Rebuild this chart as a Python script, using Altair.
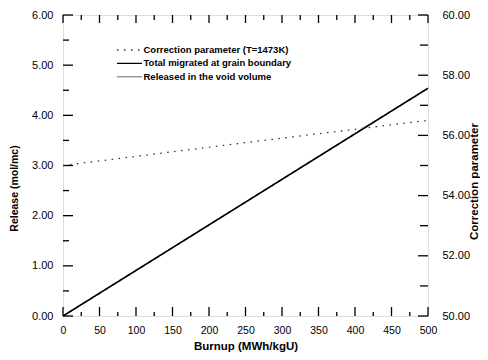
import altair as alt
import pandas as pd

# ---- data ----
burnup = [0, 250, 500]
total_migrated = [0.0, 2.27, 4.54]
released_void = [0.0, 2.27, 4.54]
correction = [55.0, 55.76, 56.5]

series_names = ["Correction parameter (T=1473K)",
                "Total migrated at grain boundary",
                "Released in the void volume"]

x_major = list(range(0, 501, 50))
x_minor = list(range(25, 500, 50))
left_major = [0, 1, 2, 3, 4, 5, 6]
left_minor = [0.5, 1.5, 2.5, 3.5, 4.5, 5.5]
right_major = [50, 52, 54, 56, 58, 60]
right_minor = [51, 53, 55, 57, 59]

W, H = 365, 301
FONT = "Liberation Sans"

df_total = pd.DataFrame({"burnup": burnup, "left": total_migrated, "series": series_names[1]})
df_rel = pd.DataFrame({"burnup": burnup, "left": released_void, "series": series_names[2]})
df_corr = pd.DataFrame({"burnup": burnup, "right": correction, "series": series_names[0]})
df_leg = pd.DataFrame({"series": series_names, "row": [0, 1, 2]})

color_enc = alt.Color("series:N", scale=alt.Scale(domain=series_names,
                      range=["#333333", "#000000", "#9a9a9a"]), legend=None)
dash_enc = alt.StrokeDash("series:N", scale=alt.Scale(domain=series_names,
                          range=[[1.5, 5.5], [1, 0], [1, 0]]), legend=None)

x_enc = alt.X("burnup:Q", scale=alt.Scale(domain=[0, 500], nice=False),
              axis=alt.Axis(values=x_major, format="d", tickSize=0, labelPadding=9,
                            domain=False, grid=False, title="Burnup (MWh/kgU)",
                            titlePadding=5, labelFontSize=10.5, titleFontSize=11.5,
                            labelFlush=False))

yl_enc = alt.Y("left:Q", scale=alt.Scale(domain=[0, 6], nice=False),
               axis=alt.Axis(values=left_major, format=".2f", tickSize=0, labelPadding=10,
                             domain=False, grid=False, title="Release (mol/mc)",
                             titleFontSize=10.5, labelFontSize=11, titleAngle=270,
                             titleX=-49, titleY=173, titleAlign="center",
                             titleBaseline="middle"))

yr_enc = alt.Y("right:Q", scale=alt.Scale(domain=[50, 60], nice=False),
               axis=alt.Axis(orient="right", values=right_major, format=".2f", tickSize=0,
                             labelPadding=14, domain=False, grid=False,
                             title="Correction parameter", titleFontSize=11.5,
                             labelFontSize=11, titleAngle=270, titleX=46, titleY=166,
                             titleAlign="center", titleBaseline="middle"))

# x ticks (inward, bottom and top)
bx_major = alt.Chart(pd.DataFrame({"burnup": x_major})).mark_rule(color="black", strokeWidth=1.3).encode(
    x=x_enc, y=alt.value(H), y2=alt.value(H - 9))
bx_minor = alt.Chart(pd.DataFrame({"burnup": x_minor})).mark_rule(color="black", strokeWidth=1.3).encode(
    x=x_enc, y=alt.value(H), y2=alt.value(H - 4))
tx_major = alt.Chart(pd.DataFrame({"burnup": x_major})).mark_rule(color="black", strokeWidth=1.3).encode(
    x=x_enc, y=alt.value(0), y2=alt.value(8))
tx_minor = alt.Chart(pd.DataFrame({"burnup": x_minor})).mark_rule(color="black", strokeWidth=1.3).encode(
    x=x_enc, y=alt.value(0), y2=alt.value(5))

rel_line = alt.Chart(df_rel).mark_line(strokeWidth=1.4).encode(
    x=x_enc, y=yl_enc, color=color_enc, strokeDash=dash_enc)
tot_line = alt.Chart(df_total).mark_line(strokeWidth=1.6).encode(
    x=x_enc, y=yl_enc, color=color_enc, strokeDash=dash_enc)
l_major = alt.Chart(pd.DataFrame({"left": left_major})).mark_rule(color="black", strokeWidth=1.3).encode(
    y=yl_enc, x=alt.value(0), x2=alt.value(10))
l_minor = alt.Chart(pd.DataFrame({"left": left_minor})).mark_rule(color="black", strokeWidth=1.3).encode(
    y=yl_enc, x=alt.value(0), x2=alt.value(6))
left_group = alt.layer(rel_line, tot_line, l_major, l_minor, bx_major, bx_minor, tx_major, tx_minor)

corr_line = alt.Chart(df_corr).mark_line(strokeWidth=1.3).encode(
    x=x_enc, y=yr_enc, color=color_enc, strokeDash=dash_enc)
r_major = alt.Chart(pd.DataFrame({"right": right_major})).mark_rule(color="black", strokeWidth=1.3).encode(
    y=yr_enc, x=alt.value(W), x2=alt.value(W - 10))
r_minor = alt.Chart(pd.DataFrame({"right": right_minor})).mark_rule(color="black", strokeWidth=1.3).encode(
    y=yr_enc, x=alt.value(W), x2=alt.value(W - 8))
right_group = alt.layer(corr_line, r_major, r_minor)

# legend inside the plot
leg_y = alt.Y("row:Q", scale=alt.Scale(domain=[0, 2], range=[35, 61.7]), axis=None)
leg_sym = alt.Chart(df_leg).mark_rule(strokeWidth=1.4).encode(
    y=leg_y, x=alt.value(54), x2=alt.value(79), color=color_enc, strokeDash=dash_enc)
leg_txt = alt.Chart(df_leg).mark_text(align="left", baseline="middle", font=FONT,
                                      fontWeight="bold", fontSize=9.5, color="black").encode(
    y=leg_y, x=alt.value(80.5), text="series:N")
legend_group = alt.layer(leg_sym, leg_txt)

chart = alt.layer(left_group, right_group, legend_group).resolve_scale(
    y="independent"
).properties(
    width=W, height=H,
    autosize=alt.AutoSizeParams(type="none"),
    padding={"left": 55, "top": 7, "right": 52, "bottom": 36},
).configure_view(
    stroke="black", strokeWidth=2
).configure_axis(
    labelFont=FONT, titleFont=FONT, labelFontWeight="bold", titleFontWeight="bold",
    labelColor="black", titleColor="black"
).configure(background="white")

chart.save("out.html", embed_options={"renderer": "svg", "actions": False})
